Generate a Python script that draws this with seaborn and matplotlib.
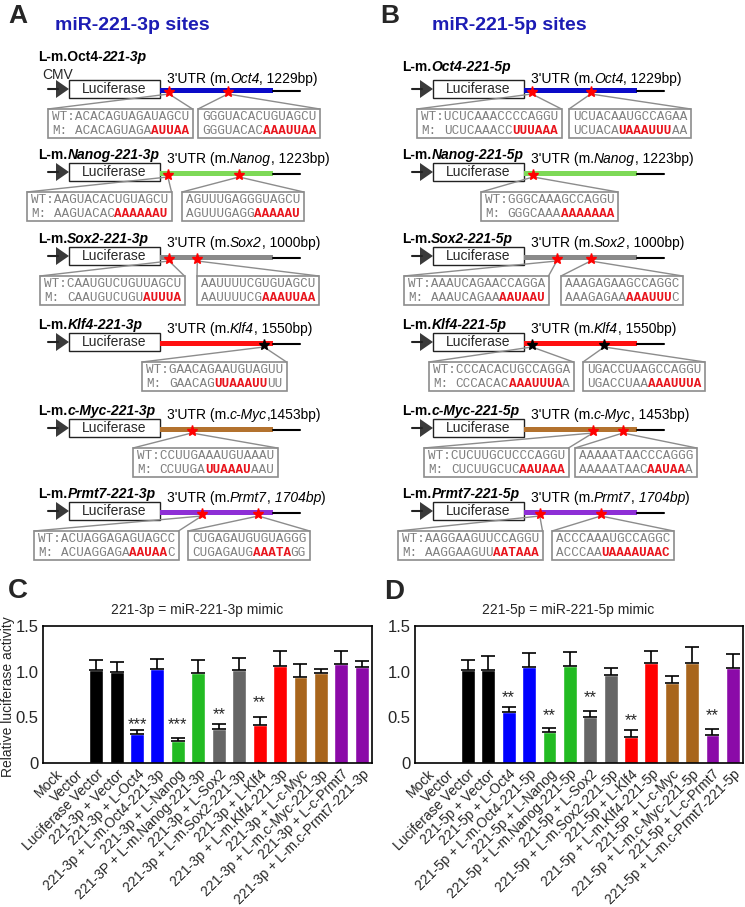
import matplotlib
matplotlib.use("Agg")
import matplotlib.pyplot as plt
from matplotlib.patches import Rectangle, Polygon
import numpy as np
import pandas as pd
import seaborn as sns

# ---------------- panels A / B : reporter constructs ----------------
genes = ["Oct4", "Nanog", "Sox2", "Klf4", "c-Myc", "Prmt7"]
utr_bp = [1229, 1223, 1000, 1550, 1453, 1704]
utr_colors = ["#0a0ac8", "#7ed957", "#8a8a8a", "#ff1010", "#b3722e", "#8e2fd6"]
star_colors = ["#ff0000", "#ff0000", "#ff0000", "#000000", "#ff0000", "#ff0000"]

# binding sites, as fraction along the 3'UTR
sites_3p = [[0.08, 0.60], [0.07, 0.70], [0.08, 0.33], [0.92], [0.28], [0.37, 0.87]]
sites_5p = [[0.07, 0.59], [0.08], [0.29, 0.59], [0.07, 0.71], [0.61, 0.875], [0.14, 0.68]]

# (wild type, mutant kept part, mutated part, mutant tail)
seq_3p = [
    [("ACACAGUAGAUAGCU", "ACACAGUAGA", "AUUAA", ""),
     ("GGGUACACUGUAGCU", "GGGUACAC", "AAAUUAA", "")],
    [("AAGUACACUGUAGCU", "AAGUACAC", "AAAAAAU", ""),
     ("AGUUUGAGGGUAGCU", "AGUUUGAGG", "AAAAAU", "")],
    [("CAAUGUCUGUUAGCU", "CAAUGUCUGU", "AUUUA", ""),
     ("AAUUUUCGUGUAGCU", "AAUUUUCG", "AAAUUAA", "")],
    [("GAACAGAAUGUAGUU", "GAACAG", "UUAAAUU", "UU")],
    [("CCUUGAAAUGUAAAU", "CCUUGA", "UUAAAU", "AAU")],
    [("ACUAGGAGAGUAGCC", "ACUAGGAGA", "AAUAA", "C"),
     ("CUGAGAUGUGUAGGG", "CUGAGAUG", "AAATA", "GG")],
]
seq_5p = [
    [("UCUCAAACCCCAGGU", "UCUCAAACC", "UUUAAA", ""),
     ("UCUACAAUGCCAGAA", "UCUACA", "UAAAUUU", "AA")],
    [("GGGCAAAGCCAGGU", "GGGCAAA", "AAAAAAA", "")],
    [("AAAUCAGAACCAGGA", "AAAUCAGAA", "AAUAAU", ""),
     ("AAAGAGAAGCCAGGC", "AAAGAGAA", "AAAUUU", "C")],
    [("CCCACACUGCCAGGA", "CCCACAC", "AAAUUUA", "A"),
     ("UGACCUAAGCCAGGU", "UGACCUAA", "AAAUUUA", "")],
    [("CUCUUGCUCCCAGGU", "CUCUUGCUC", "AAUAAA", ""),
     ("AAAAATAACCCAGGG", "AAAAATAAC", "AAUAA", "A")],
    [("AAGGAAGUUCCAGGU", "AAGGAAGUU", "AATAAA", ""),
     ("ACCCAAAUGCCAGGC", "ACCCAA", "UAAAAUAAC", "")],
]

# ---------------- panels C / D : luciferase assay ----------------
labels_3p = ["Mock", "Vector", "Luciferase Vector", "221-3p + Vector",
             "221-3p + L-Oct4", "221-3p + L-m.Oct4-221-3p",
             "221-3p + L-Nanog", "221-3P + L-m.Nanog-221-3p",
             "221-3p + L-Sox2", "221-3p + L-m.Sox2-221-3p",
             "221-3p + L-Klf4", "221-3p + L-m.Klf4-221-3p",
             "221-3p + L-c-Myc", "221-3p + L-m.c-Myc-221-3p",
             "221-3p + L-c-Prmt7", "221-3p + L-m.c-Prmt7-221-3p"]
labels_5p = ["Mock", "Vector", "Luciferase Vector", "221-5p + Vector",
             "221-5p + L-Oct4", "221-5p + L-m.Oct4-221-5p",
             "221-5p + L-Nanog", "221-5p + L-m.Nanog-221-5p",
             "221-5p + L-Sox2", "221-5p + L-m.Sox2-221-5p",
             "221-5p + L-Klf4", "221-5p + L-m.Klf4-221-5p",
             "221-5P + L-c-Myc", "221-5p + L-m.c-Myc-221-5p",
             "221-5p + L-c-Prmt7", "221-5p + L-m.c-Prmt7-221-5p"]

values_3p = [0, 0, 1.02, 1.00, 0.32, 1.025, 0.245, 0.99, 0.375, 1.015,
             0.42, 1.06, 0.945, 0.98, 1.085, 1.055]
err_3p = [0, 0, 0.11, 0.11, 0.045, 0.11, 0.025, 0.14, 0.055, 0.14,
          0.08, 0.165, 0.14, 0.045, 0.14, 0.065]
values_5p = [0, 0, 1.02, 1.02, 0.553, 1.05, 0.335, 1.062, 0.502, 0.967,
             0.284, 1.10, 0.876, 1.10, 0.309, 1.036]
err_5p = [0, 0, 0.11, 0.15, 0.055, 0.15, 0.045, 0.15, 0.065, 0.077,
          0.08, 0.13, 0.077, 0.17, 0.062, 0.157]

sig_3p = ["", "", "", "", "***", "", "***", "", "**", "", "**", "", "", "", "", ""]
sig_y_3p = [0, 0, 0, 0, 0.37, 0, 0.37, 0, 0.475, 0, 0.615, 0, 0, 0, 0, 0]
sig_5p = ["", "", "", "", "**", "", "**", "", "**", "", "**", "", "", "", "**", ""]
sig_y_5p = [0, 0, 0, 0, 0.665, 0, 0.465, 0, 0.665, 0, 0.42, 0, 0, 0, 0.465, 0]

bar_colors = ["#000000"] * 4 + ["#0000ff"] * 2 + ["#22bb22"] * 2 + ["#666666"] * 2 + \
             ["#ff0000"] * 2 + ["#a8651c"] * 2 + ["#8b0aa8"] * 2

# ---------------- layout (pixels) ----------------
row_y = [89, 172, 256, 342, 428, 511]
box_x_3p = [[48, 198], [27, 182], [40, 197], [142], [133], [34, 188]]
box_x_5p = [[417, 569], [481], [404, 561], [429, 583], [424, 575], [398, 552]]

sns.set_theme(style="white")
plt.rcParams["font.family"] = ["Liberation Sans", "DejaVu Sans"]

fig = plt.figure(figsize=(7.45, 9.07), dpi=100)
ax0 = fig.add_axes([0, 0, 1, 1])
ax0.set_xlim(0, 745)
ax0.set_ylim(907, 0)
ax0.axis("off")
renderer = fig.canvas.get_renderer()

GRAY = "#7f7f7f"
EDGE = "#8c8c8c"
RED = "#e8141c"
MONO = "Liberation Mono"
MONO_SIZE = 9.1
CW = 0.6 * MONO_SIZE * 100 / 72


def rich(ax, x, y, parts, size):
    for s, weight, style in parts:
        t = ax.text(x, y, s, fontsize=size, fontweight=weight, fontstyle=style,
                    ha="left", va="center", color="black")
        x += t.get_window_extent(renderer).width
    return x


def seq_box(ax, left, cy, sx, seq, prefix):
    wt, keep, mut, tail = seq
    n = max(len(wt), len(keep) + len(mut) + len(tail)) + (3 if prefix else 0)
    w = n * CW + 8
    top = cy + 20
    ax.add_patch(Rectangle((left, top), w, 29, fill=False, ec=EDGE, lw=1.2))
    ax.plot([left, sx, left + w], [top, cy + 5, top], color=EDGE, lw=1)
    tx = left + 4
    kw = dict(family=MONO, fontsize=MONO_SIZE, ha="left", va="center")
    ax.text(tx, cy + 28, ("WT:" if prefix else "") + wt, color=GRAY, **kw)
    x = tx
    if prefix:
        ax.text(x, cy + 42, "M:", color=GRAY, **kw)
        x += 3 * CW
    ax.text(x, cy + 42, keep, color=GRAY, **kw)
    x += len(keep) * CW
    ax.text(x, cy + 42, mut, color=RED, fontweight="bold", **kw)
    x += len(mut) * CW
    if tail:
        ax.text(x, cy + 42, tail, color=GRAY, **kw)


def utr_parts(i, sep):
    g = genes[i]
    if g == "Prmt7":
        return [("3'UTR (m.", "normal", "normal"), (g, "normal", "italic"),
                (",", "normal", "normal"), (f" {utr_bp[i]}bp", "normal", "italic"),
                (")", "normal", "normal")]
    return [("3'UTR (m.", "normal", "normal"), (g, "normal", "italic"),
            (f",{sep}{utr_bp[i]}bp)", "normal", "normal")]


def construct(ax, dx, i, sites, seqs, boxes, arm):
    cy = row_y[i]
    ax.plot([48 + dx, 58 + dx], [cy, cy], color="#222222", lw=1.5)
    ax.add_patch(Polygon([[56 + dx, cy - 9], [56 + dx, cy + 9], [69 + dx, cy]],
                         closed=True, color="#3a3a3a", lw=0))
    ax.add_patch(Rectangle((69 + dx, cy - 9), 91, 18, fc="white", ec="#222222", lw=1))
    ax.text(114.5 + dx, cy, "Luciferase", ha="center", va="center", fontsize=10)
    ax.add_patch(Rectangle((160 + dx, cy - 1), 113, 5, color=utr_colors[i], lw=0))
    ax.plot([273 + dx, 300 + dx], [cy + 1.5, cy + 1.5], color="black", lw=1.5)
    for k, f in enumerate(sites):
        sx = 160 + dx + f * 113
        seq_box(ax, boxes[k], cy, sx, seqs[k], prefix=(k == 0))
        ax.plot(sx, cy + 3, marker="*", ms=8, color=star_colors[i], mec=star_colors[i],
                zorder=5)
    # titles
    if i == 0:
        if arm == "3p":
            title = [("L-m.Oct4-", "bold", "normal"), ("221-3p", "bold", "italic")]
            ty, uy = cy - 32, cy - 10
            ax.text(42, cy - 14, "CMV", fontsize=10, ha="left", va="center")
        else:
            title = [("L-m.", "bold", "normal"), ("Oct4-221-5p", "bold", "italic")]
            ty, uy = cy - 22, cy - 10
    else:
        title = [("L-m.", "bold", "normal"), (f"{genes[i]}-221-{arm}", "bold", "italic")]
        ty, uy = cy - 17, cy - 13
    rich(ax, 38 + dx, ty, title, 10)
    sep = "" if (genes[i] == "c-Myc" and arm == "3p") else " "
    rich(ax, 167 + dx, uy, utr_parts(i, sep), 10)


for i in range(6):
    construct(ax0, 0, i, sites_3p[i], seq_3p[i], box_x_3p[i], "3p")
    construct(ax0, 364, i, sites_5p[i], seq_5p[i], box_x_5p[i], "5p")

blue = "#1c1cb4"
ax0.text(8, 16, "A", fontsize=19, fontweight="bold", ha="left", va="center")
ax0.text(55, 26, "miR-221-3p sites", fontsize=14, fontweight="bold", color=blue,
         ha="left", va="center")
ax0.text(380, 16, "B", fontsize=19, fontweight="bold", ha="left", va="center")
ax0.text(432, 26, "miR-221-5p sites", fontsize=14, fontweight="bold", color=blue,
         ha="left", va="center")
ax0.text(8, 591, "C", fontsize=20, fontweight="bold", ha="left", va="center")
ax0.text(384, 592, "D", fontsize=20, fontweight="bold", ha="left", va="center")
ax0.text(8, 697, "Relative luciferase activity", fontsize=10, rotation=90,
         ha="center", va="center")


def bar_panel(ax, labels, values, errs, sig, sig_y, title):
    df = pd.DataFrame({"construct": labels, "activity": values})
    pal = dict(zip(labels, bar_colors))
    sns.barplot(data=df, x="construct", y="activity", hue="construct", palette=pal,
                legend=False, width=0.68, saturation=1, errorbar=None, ax=ax)
    pos = np.arange(len(labels))
    v = np.array(values, float)
    e = np.array(errs, float)
    m = v > 0
    ax.errorbar(pos[m], v[m], yerr=[np.zeros(m.sum()), e[m]], fmt="none",
                ecolor="black", elinewidth=1.2, capsize=5, capthick=1.2)
    for p, s, y in zip(pos, sig, sig_y):
        if s:
            ax.text(p, y, s, ha="center", va="baseline", fontsize=12)
    ax.set_xlim(-0.6, 15.5)
    ax.set_ylim(0, 1.5)
    ax.set_yticks([0, 0.5, 1.0, 1.5])
    ax.set_yticklabels(["0", "0.5", "1.0", "1.5"], fontsize=12)
    ax.set_xticks(pos)
    ax.set_xticklabels(labels, rotation=45, ha="right", rotation_mode="anchor",
                       fontsize=10)
    ax.tick_params(length=0, pad=3)
    ax.set_xlabel("")
    ax.set_ylabel("")
    for sp in ax.spines.values():
        sp.set_visible(True)
        sp.set_color("black")
        sp.set_linewidth(1.2)
    ax.text(0.468, 1.117, title, transform=ax.transAxes, ha="center", va="center",
            fontsize=10)


axC = fig.add_axes([43 / 745, 1 - 763 / 907, 329 / 745, 137 / 907])
axD = fig.add_axes([415 / 745, 1 - 763 / 907, 328 / 745, 137 / 907])
bar_panel(axC, labels_3p, values_3p, err_3p, sig_3p, sig_y_3p, "221-3p = miR-221-3p mimic")
bar_panel(axD, labels_5p, values_5p, err_5p, sig_5p, sig_y_5p, "221-5p = miR-221-5p mimic")

fig.savefig("out.png", dpi=100)
